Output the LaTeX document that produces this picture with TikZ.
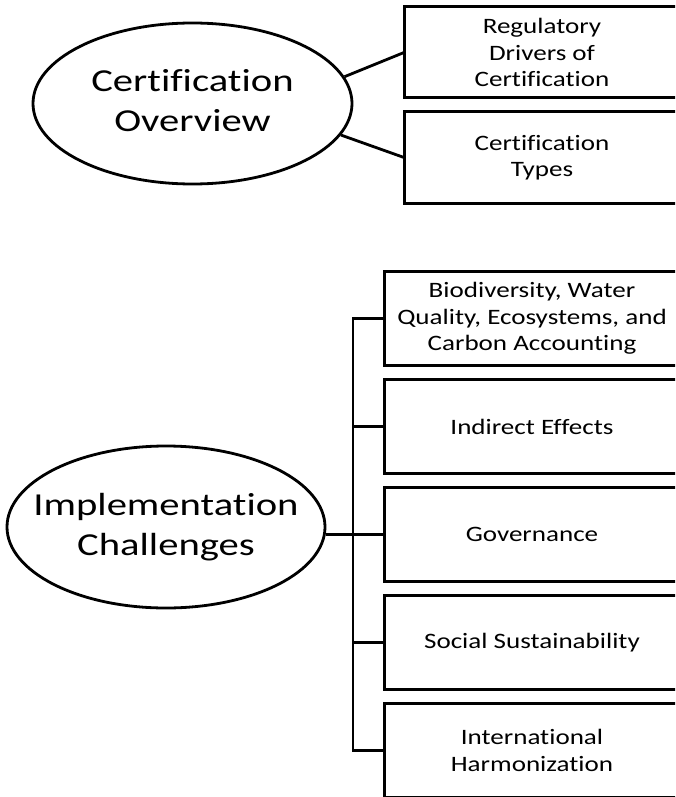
\documentclass[tikz,border=0pt]{standalone}
\usepackage{fontspec}
\setmainfont{Carlito}
\newfontfamily\fonteelipse[FakeStretch=1.27,Ligatures=NoCommon]{Carlito}
\newfontfamily\fontecaixa[FakeStretch=1.23,Ligatures=NoCommon]{Carlito}
\usetikzlibrary{shapes.geometric,positioning}

\begin{document}
\begin{tikzpicture}[x=1pt, y=-1pt,
  elipse/.style={ellipse, draw, line width=2.8pt, inner sep=0pt},
  caixa/.style={rectangle, draw, line width=3pt, inner sep=0pt, outer sep=0pt},
  cxsup/.style={caixa, minimum width=316pt, minimum height=91pt},
  cxinf/.style={caixa, minimum width=336pt, minimum height=94.5pt},
  txt/.style={align=center, xshift=-20pt, font=\fontecaixa\fontsize{22}{26.5}\selectfont},
  liga/.style={line width=2.8pt},
  rotulo/.style={font=\fonteelipse\fontsize{32}{39.5}\selectfont, align=center}]

\useasboundingbox (0,0) rectangle (675,797);
\clip (0,0) rectangle (675,797);

% ================= parte 1 : visao geral =================
\node[elipse, minimum width=319pt, minimum height=161pt,
  label={[rotulo, yshift=3pt]center:Certification\\Overview}] (visao) at (192.5,103.5) {};
\node[cxsup, label={[txt]center:Regulatory\\Drivers of\\Certification}] (regul) at (562,52.5) {};
\node[cxsup, below=14pt of regul, label={[txt]center:Certification\\Types}] (tipos) {};
\draw[liga] (visao.10) -- (regul.west);
\draw[liga] (visao.-12) -- (tipos.west);

% ================= parte 2 : desafios =================
\node[elipse, minimum width=318pt, minimum height=162pt,
  label={[rotulo]center:Implementation\\Challenges}] (impl) at (166,527) {};
\node[cxinf, label={[txt]center:Biodiversity, Water\\Quality, Ecosystems, and\\Carbon Accounting}] (biod) at (552,318.5) {};
\node[cxinf, below=13.5pt of biod, label={[txt]center:Indirect Effects}] (indir) {};
\node[cxinf, below=13.5pt of indir, label={[txt]center:Governance}] (gover) {};
\node[cxinf, below=13.5pt of gover, label={[txt]center:Social Sustainability}] (social) {};
\node[cxinf, below=13.5pt of social, label={[txt]center:International\\Harmonization}] (harmon) {};

% barra vertical
\coordinate (barra) at (353,0);
\draw[liga] (impl.east |- gover.west) -- (gover.west);
\draw[liga] (biod.west) -- (barra |- biod.west) -- (barra |- harmon.west) -- (harmon.west);
\foreach \c in {indir,social}
  \draw[liga] (barra |- \c.west) -- (\c.west);

\end{tikzpicture}
\end{document}
